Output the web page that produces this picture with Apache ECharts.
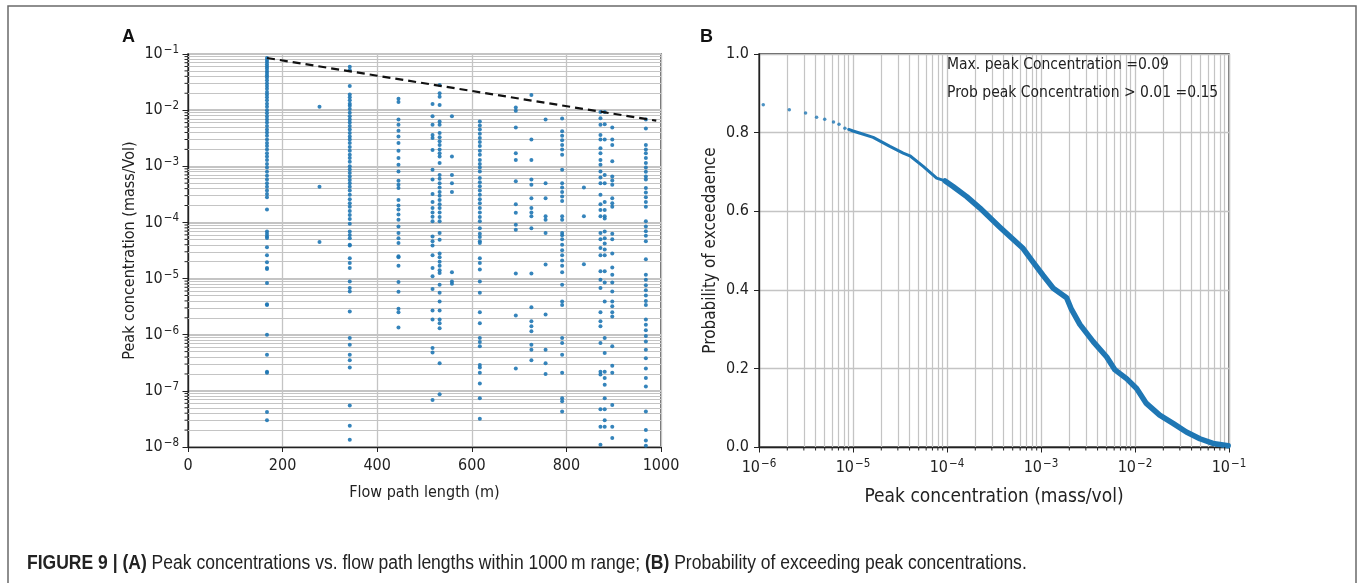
<!DOCTYPE html>
<html>
<head>
<meta charset="utf-8">
<script src="https://cdn.jsdelivr.net/npm/echarts@6/dist/echarts.min.js"></script>
<style>
html,body{margin:0;padding:0;background:#fff;}
#chart{width:1358px;height:583px;}
</style>
</head>
<body>
<div id="chart"></div>
<script>
// ---------- Panel A data: flow path length (m) and peak concentrations ----------
const pathLengths = [167, 278, 342, 445, 517, 532, 558, 617, 693, 726, 756, 791, 837, 872, 881, 897, 968];
const peak167 = [0.085,0.078,0.072,0.066,0.06,0.055,0.05,0.046,0.042,0.038,0.034,0.03,0.027,0.024,0.021,0.019,0.017,0.015,0.013,0.0115,0.01,0.0088,0.0077,0.0068,0.006,0.0052,0.0045,0.004,0.0035,0.003,0.0026,0.0023,0.002,0.0017,0.0015,0.0013,0.0011,0.00095,0.0008,0.00068,0.00058,0.0005,0.00043,0.00037,0.00032,0.00028,1.7e-4,6.2e-5,5.3e-5,6.9e-5,5.6e-5,3.6e-5,2.6e-5,1.95e-5,1.55e-5,1.48e-5,8.3e-6,3.5e-6,3.4e-6,1.0e-6,4.4e-7,2.2e-7,2.1e-7,4.2e-8,3.0e-8];
const peak278 = [0.0115,4.3e-4,4.5e-5];
const peak342 = [0.059,0.052,0.027,0.019,0.017,0.015,0.013,0.012,0.0105,0.009,0.0078,0.0068,0.006,0.0052,0.0045,0.0039,0.0034,0.003,0.0026,0.0022,0.0019,0.0016,0.0014,0.0012,0.001,0.00088,0.00076,0.00066,0.00057,0.0005,0.00043,0.00037,0.00031,0.00026,0.00022,0.00019,0.00016,0.000135,0.000115,9.5e-5,6.9e-5,6.0e-5,5.2e-5,4.0e-5,3.9e-5,2.3e-5,1.9e-5,1.55e-5,8.9e-6,6.8e-6,5.9e-6,2.6e-6,8.7e-7,6.6e-7,4.4e-7,3.5e-7,2.6e-7,5.5e-8,2.4e-8,1.35e-8];
const peak445 = [0.016,0.0139,0.0068,0.0055,0.0043,0.0034,0.0026,0.0019,0.0014,0.00107,0.00081,0.00055,0.00047,0.00041,0.00025,0.0002,0.00017,0.000138,0.000112,8.5e-5,6.5e-5,5.2e-5,4.3e-5,2.5e-5,2.4e-5,1.7e-5,8.7e-6,5.8e-6,2.9e-6,2.5e-6,1.35e-6];
const peak517 = [0.0129,0.0078,0.0055,0.0036,0.0032,0.00195,0.00087,0.00058,0.00032,0.00023,0.00018,0.00015,0.000126,0.000105,5.6e-5,4.6e-5,3.9e-5,2.6e-5,1.55e-5,1.1e-5,6.5e-6,2.7e-6,1.86e-6,5.8e-7,4.8e-7,6.9e-8];
const peak532 = [0.028,0.02,0.0174,0.0123,0.0063,0.0055,0.0039,0.0033,0.0028,0.0024,0.002,0.0017,0.0015,0.00115,0.0007,0.0006,0.0005,0.00042,0.00035,0.0003,0.00025,0.00021,0.00018,0.00015,0.000125,0.000105,6.5e-5,4.9e-5,2.8e-5,2.4e-5,2.0e-5,1.7e-5,1.4e-5,1.26e-5,7.8e-6,5.6e-6,3.9e-6,2.7e-6,1.86e-6,1.6e-6,1.3e-6,3.1e-7,8.7e-8];
const peak558 = [0.0078,0.0015,0.0007,0.0005,0.00035,1.29e-5,8.9e-6,8.1e-6];
const peak617 = [0.0063,0.0053,0.0045,0.0038,0.0032,0.0027,0.0023,0.0019,0.0016,0.0013,0.0011,0.00095,0.00081,0.00062,0.00052,0.00044,0.00037,0.00031,0.00026,0.00022,0.00018,0.00015,0.000125,0.000105,7.9e-5,6.3e-5,5.5e-5,4.6e-5,4.3e-5,2.3e-5,1.9e-5,1.45e-5,8.9e-6,5.6e-6,2.5e-6,1.6e-6,8.7e-7,7.4e-7,6.2e-7,2.9e-7,2.6e-7,2.1e-7,1.35e-7,7.4e-8,3.2e-8];
const peak693 = [0.0112,0.0098,0.0049,0.0017,0.0013,0.00054,0.00021,0.000148,9.1e-5,7.4e-5,1.23e-5,2.2e-6,2.5e-7];
const peak726 = [0.0186,0.003,0.0013,0.00058,0.00047,0.00027,0.00018,0.00015,0.000129,7.9e-5,1.23e-5,3.1e-6,1.74e-6,1.41e-6,1.15e-6,6.6e-7,5.4e-7,3.5e-7];
const peak756 = [0.0068,0.0005,0.00027,0.000129,0.000112,6.5e-5,1.78e-5,2.3e-6,5.4e-7,3.1e-7,2.0e-7];
const peak791 = [0.0071,0.0042,0.0035,0.0029,0.0024,0.002,0.0016,0.00087,0.0005,0.00042,0.00035,0.00029,0.00024,0.000129,0.000112,6.5e-5,5.9e-5,5e-5,4e-5,3.2e-5,2.6e-5,2.1e-5,1.7e-5,1.3e-5,7.8e-6,3.9e-6,3.4e-6,8.7e-7,7.1e-7,4.4e-7,2.1e-7,7.4e-8,6.5e-8,4.3e-8];
const peak837 = [0.00042,0.000129,1.8e-5];
const peak872 = [0.0093,0.0072,0.0055,0.0036,0.003,0.0021,0.0017,0.0013,0.00107,0.00081,0.00063,0.0005,0.00031,0.00021,0.000166,0.000129,6.5e-5,5e-5,3.5e-5,2.6e-5,1.35e-5,9.5e-6,6.8e-6,2.5e-6,1.74e-6,1.41e-6,7.1e-7,2.2e-7,1.95e-7,4.7e-8,2.3e-8,1.1e-8];
const peak881 = [0.0093,0.0056,0.003,0.0007,0.0005,0.00023,0.000166,0.000129,0.000117,6.9e-5,5.2e-5,4.2e-5,3.3e-5,2.6e-5,1.35e-5,8.5e-6,3.9e-6,8.7e-7,4.7e-7,2.2e-7,1.7e-7,1.29e-7,7.4e-8,4.7e-8,3.0e-8,2.3e-8];
const peak897 = [0.0049,0.003,0.0024,0.00123,0.00066,0.00056,0.00047,0.00027,0.00022,0.00019,6.3e-5,5e-5,2.8e-5,1.58e-5,1.17e-5,8.5e-6,5.9e-6,3.9e-6,3.2e-6,2.5e-6,2.1e-6,6.2e-7,2.8e-7,2.1e-7,5.6e-8,2.3e-8,1.45e-8];
const peak968 = [0.0068,0.0047,0.0024,0.002,0.0017,0.0014,0.00115,0.00095,0.0008,0.00066,0.00058,0.00041,0.00034,0.00028,0.00023,0.00019,0.000105,8.5e-5,7e-5,5.8e-5,4.6e-5,2.2e-5,1.17e-5,9.5e-6,7.6e-6,6.2e-6,5e-6,4e-6,3.4e-6,1.86e-6,1.5e-6,1.2e-6,9.5e-7,7.6e-7,5.4e-7,3.8e-7,2.5e-7,1.7e-7,1.2e-7,4.3e-8,2e-8,1.3e-8,1.05e-8];
const peaksByPath = [peak167,peak278,peak342,peak445,peak517,peak532,peak558,peak617,peak693,peak726,peak756,peak791,peak837,peak872,peak881,peak897,peak968];
// dashed upper envelope
const envelopeLength = [167, 990];
const envelopePeak = [0.085, 0.0065];

// ---------- Panel B data: exceedance probability ----------
const sparseConc = [1.11e-6, 2.1e-6, 3.13e-6, 4.1e-6, 5.0e-6, 6.2e-6, 7.1e-6, 8.2e-6];
const sparseProb = [0.871, 0.858, 0.850, 0.839, 0.834, 0.827, 0.821, 0.811];
const curveConc = [9.0e-6,1.0e-5,1.17e-5,1.64e-5,2.47e-5,3.42e-5,4.03e-5,5.58e-5,7.76e-5,9.55e-5,1.16e-4,1.62e-4,2.24e-4,3.63e-4,6.46e-4,8.2e-4,1.05e-3,1.35e-3,1.87e-3,2.11e-3,2.59e-3,3.59e-3,5.0e-3,6.08e-3,8.13e-3,1.04e-2,1.32e-2,1.83e-2,2.54e-2,3.52e-2,4.9e-2,6.76e-2,9.8e-2];
const curveProb = [0.808,0.804,0.799,0.788,0.765,0.748,0.741,0.714,0.684,0.677,0.663,0.637,0.608,0.560,0.505,0.471,0.437,0.404,0.380,0.350,0.312,0.268,0.229,0.197,0.174,0.149,0.111,0.081,0.060,0.038,0.021,0.009,0.003];
const thinCount = 9; // points of the curve drawn with the thinner stroke
const annotations = ['Max. peak Concentration =0.09', 'Prob peak Concentration > 0.01 =0.15'];
const caption = ['FIGURE 9 | (A)', ' Peak concentrations vs. flow path lengths within 1000\u2009m range; ', '(B)', ' Probability of exceeding peak concentrations.'];

// ---------- styling ----------
const MPL = '"DejaVu Sans Condensed", "DejaVu Sans", sans-serif';
const CAP = '"Liberation Sans Narrow", "Arial Narrow", "Liberation Sans", Arial, sans-serif';
const BLUE = '#1f77b4';
const GRID = '#c4c4c4';

function supLabel(v) {
  const e = Math.round(Math.log10(v));
  return '{b|10}{s|\u2212' + Math.abs(e) + '}';
}
const supRich = {
  b: { fontSize: 16, fontFamily: MPL, color: '#222', lineHeight: 20 },
  s: { fontSize: 11.5, fontFamily: MPL, color: '#222', verticalAlign: 'top', lineHeight: 20, padding: [0, 0, 6, 1] }
};

// gridline / minor tick positions (minor decades)
const minorA = [];
for (let e = -8; e <= -2; e++) for (let m = 2; m <= 9; m++) minorA.push(m * Math.pow(10, e));
const minorB = [];
for (let e = -6; e <= -2; e++) for (let m = 2; m <= 9; m++) minorB.push(m * Math.pow(10, e));

const scatterA = [];
pathLengths.forEach((x, i) => peaksByPath[i].forEach(v => scatterA.push([x, v])));
const curvePts = curveConc.map((x, i) => [x, curveProb[i]]);

function minorTickY(params, api) {
  const p = api.coord([api.value(0), api.value(1)]);
  return { type: 'line', shape: { x1: p[0] - 3.5, y1: p[1], x2: p[0], y2: p[1] }, style: { stroke: '#222', lineWidth: 1 } };
}
function minorTickX(params, api) {
  const p = api.coord([api.value(0), api.value(1)]);
  return { type: 'line', shape: { x1: p[0], y1: p[1], x2: p[0], y2: p[1] + 3.5 }, style: { stroke: '#222', lineWidth: 1 } };
}

const chart = echarts.init(document.getElementById('chart'), null, { renderer: 'canvas' });
chart.setOption({
  animation: false,
  backgroundColor: '#fff',
  grid: [
    { left: 188, top: 54, width: 473, height: 393, show: true, borderColor: '#222', borderWidth: 1.3, containLabel: false },
    { left: 759, top: 54, width: 470, height: 393, show: true, borderColor: '#222', borderWidth: 1.3, containLabel: false }
  ],
  xAxis: [
    { gridIndex: 0, type: 'value', min: 0, max: 1000, interval: 200,
      name: 'Flow path length (m)', nameLocation: 'middle', nameGap: 38,
      nameTextStyle: { fontFamily: MPL, fontSize: 16, color: '#222' },
      axisLine: { lineStyle: { color: '#222', width: 1.3 } },
      axisTick: { show: true, length: 5, lineStyle: { color: '#222' } },
      axisLabel: { fontFamily: MPL, fontSize: 16, color: '#222', margin: 11, formatter: v => String(v) },
      splitLine: { show: true, lineStyle: { color: GRID, width: 1.3 } } },
    { gridIndex: 1, type: 'log', logBase: 10, min: 1e-6, max: 1e-1, splitNumber: 5,
      name: 'Peak concentration (mass/vol)', nameLocation: 'middle', nameGap: 41,
      nameTextStyle: { fontFamily: MPL, fontSize: 19, color: '#222' },
      axisLine: { lineStyle: { color: '#222', width: 1.3 } },
      axisTick: { show: true, length: 5.5, lineStyle: { color: '#222' } },
      axisLabel: { formatter: supLabel, rich: supRich, margin: 11 },
      splitLine: { show: true, lineStyle: { color: GRID, width: 1.3 } } }
  ],
  yAxis: [
    { gridIndex: 0, type: 'log', logBase: 10, min: 1e-8, max: 1e-1, splitNumber: 7,
      name: 'Peak concentration (mass/Vol)', nameLocation: 'middle', nameGap: 50,
      nameTextStyle: { fontFamily: MPL, fontSize: 16, color: '#222' },
      axisLine: { lineStyle: { color: '#222', width: 1.3 } },
      axisTick: { show: true, length: 5.5, lineStyle: { color: '#222' } },
      axisLabel: { formatter: supLabel, rich: supRich, margin: 9 },
      splitLine: { show: true, lineStyle: { color: GRID, width: 2.2 } } },
    { gridIndex: 1, type: 'value', min: 0, max: 1, interval: 0.2,
      name: 'Probability of exceedaence', nameLocation: 'middle', nameGap: 40,
      nameTextStyle: { fontFamily: MPL, fontSize: 17, color: '#222' },
      axisLine: { lineStyle: { color: '#222', width: 1.3 } },
      axisTick: { show: true, length: 5, lineStyle: { color: '#222' } },
      axisLabel: { fontFamily: MPL, fontSize: 16, color: '#222', margin: 10, formatter: v => v.toFixed(1) },
      splitLine: { show: true, lineStyle: { color: GRID, width: 1.3 } } }
  ],
  series: [
    { type: 'scatter', xAxisIndex: 0, yAxisIndex: 0, data: [], silent: true, z: 1,
      markLine: { silent: true, z: 1, symbol: 'none', animation: false, precision: 12, label: { show: false },
        lineStyle: { color: GRID, width: 1, type: 'solid' },
        data: minorA.map(v => ({ yAxis: v })) } },
    { type: 'scatter', xAxisIndex: 1, yAxisIndex: 1, data: [], silent: true, z: 1,
      markLine: { silent: true, z: 1, symbol: 'none', animation: false, precision: 12, label: { show: false },
        lineStyle: { color: GRID, width: 1.2, type: 'solid' },
        data: minorB.map(v => ({ xAxis: v })) } },
    { type: 'custom', xAxisIndex: 0, yAxisIndex: 0, silent: true, clip: false, z: 5,
      renderItem: minorTickY, data: minorA.map(v => [0, v]) },
    { type: 'custom', xAxisIndex: 1, yAxisIndex: 1, silent: true, clip: false, z: 5,
      renderItem: minorTickX, data: minorB.map(v => [v, 0]) },
    { type: 'scatter', xAxisIndex: 0, yAxisIndex: 0, symbol: 'circle', symbolSize: 4, z: 3,
      itemStyle: { color: BLUE, opacity: 0.9 }, data: scatterA },
    { type: 'line', xAxisIndex: 0, yAxisIndex: 0, showSymbol: false, symbol: 'none', z: 4,
      lineStyle: { color: '#111', width: 2.2, type: [8, 5] },
      data: envelopeLength.map((x, i) => [x, envelopePeak[i]]) },
    { type: 'scatter', xAxisIndex: 1, yAxisIndex: 1, symbol: 'circle', symbolSize: 3.5, z: 3,
      itemStyle: { color: BLUE }, data: sparseConc.map((x, i) => [x, sparseProb[i]]) },
    { type: 'line', xAxisIndex: 1, yAxisIndex: 1, showSymbol: false, symbol: 'none', z: 3,
      lineStyle: { color: BLUE, width: 3, join: 'round', cap: 'round' },
      data: curvePts.slice(0, thinCount + 1) },
    { type: 'line', xAxisIndex: 1, yAxisIndex: 1, showSymbol: false, symbol: 'none', z: 3,
      lineStyle: { color: BLUE, width: 5.5, join: 'round', cap: 'round' },
      data: curvePts.slice(thinCount) }
  ],
  graphic: [
    { type: 'rect', silent: true, shape: { x: 8, y: 6, width: 1348, height: 640 },
      style: { fill: 'none', stroke: '#6a6a6a', lineWidth: 1.5 } },
    { type: 'text', left: 122, top: 28, style: { text: 'A', fontFamily: '"Liberation Sans", Arial, sans-serif', fontWeight: 'bold', fontSize: 18, fill: '#111' } },
    { type: 'text', left: 700, top: 28, style: { text: 'B', fontFamily: '"Liberation Sans", Arial, sans-serif', fontWeight: 'bold', fontSize: 18, fill: '#111' } },
    { type: 'text', left: 947, top: 57, z: 10, style: { text: annotations[0], fontFamily: MPL, fontSize: 15.5, fill: '#222' } },
    { type: 'text', left: 947, top: 85, z: 10, style: { text: annotations[1], fontFamily: MPL, fontSize: 15.5, fill: '#222' } },
    { type: 'text', x: 27, y: 553, scaleX: 0.876, scaleY: 1, style: {
        text: '{b|' + caption[0] + '}{n|' + caption[1] + '}{b|' + caption[2] + '}{n|' + caption[3] + '}',
        rich: {
          b: { fontFamily: CAP, fontWeight: 'bold', fontSize: 20, fill: '#222' },
          n: { fontFamily: CAP, fontSize: 20, fill: '#222' }
        } } }
  ]
});
</script>
</body>
</html>
